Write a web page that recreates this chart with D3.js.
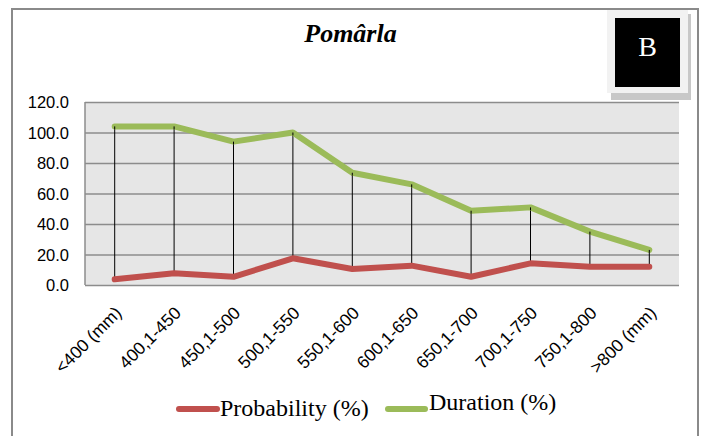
<!DOCTYPE html>
<html>
<head>
<meta charset="utf-8">
<script src="https://cdn.jsdelivr.net/npm/d3@7/dist/d3.min.js"></script>
<style>
  html, body { margin: 0; padding: 0; background: #fff; }
  svg { display: block; }
</style>
</head>
<body>
<script>
// Rainfall classes and the two series (%)
const categories = ["<400 (mm)", "400,1-450", "450,1-500", "500,1-550", "550,1-600",
                    "600,1-650", "650,1-700", "700,1-750", "750,1-800", ">800 (mm)"];
const probability = [3.7, 7.7, 5.4, 17.5, 10.5, 12.7, 5.4, 14.2, 12.0, 12.0];
const duration = [104.0, 104.0, 94.0, 100.0, 73.6, 66.0, 48.7, 50.9, 35.0, 23.0];
const yTicks = [0, 20, 40, 60, 80, 100, 120];
const titleText = "Pomârla";
const panelLetter = "B";
const seriesNames = ["Probability (%)", "Duration (%)"];

const W = 706, H = 436;
const plot = { left: 85, right: 679, top: 102, bottom: 285 };
const colors = { probability: "#c0504d", duration: "#9bbb59" };

const svg = d3.select("body").append("svg").attr("width", W).attr("height", H);

// outer frame
svg.append("rect").attr("x", 12).attr("y", 9).attr("width", 686).attr("height", 440)
  .attr("fill", "#fff").attr("stroke", "#8a8a8a").attr("stroke-width", 2);

// title
svg.append("text").attr("x", 350.5).attr("y", 42).attr("text-anchor", "middle")
  .attr("font-family", "'Liberation Serif', 'Times New Roman', serif")
  .attr("font-weight", "bold").attr("font-style", "italic").attr("font-size", 26)
  .text(titleText);

// scales
const x = d3.scaleBand().domain(categories).range([plot.left, plot.right]);
const cx = c => x(c) + x.bandwidth() / 2;
const y = d3.scaleLinear().domain([0, 120]).range([plot.bottom, plot.top]);

// plot background
svg.append("rect").attr("x", plot.left).attr("y", plot.top)
  .attr("width", plot.right - plot.left).attr("height", plot.bottom - plot.top)
  .attr("fill", "#e6e6e6");

// gridlines + y axis labels
const yAxis = d3.axisLeft(y).tickValues(yTicks).tickFormat(d3.format(".1f"))
  .tickSize(-(plot.right - plot.left)).tickPadding(16);
const gy = svg.append("g").attr("transform", `translate(${plot.left},0)`).call(yAxis);
gy.select(".domain").attr("stroke", "#8c8c8c").attr("stroke-width", 1.5)
  .attr("d", `M0,${plot.top}V${plot.bottom}`);
gy.selectAll(".tick line").attr("stroke", "#8c8c8c").attr("stroke-width", 1.5);
gy.selectAll(".tick text").attr("font-family", "'Liberation Sans', Arial, sans-serif")
  .attr("font-size", 16.5).attr("fill", "#000").attr("dy", "0.36em");

// x axis labels, rotated
const xAxis = d3.axisBottom(x).tickSize(0).tickPadding(0);
const gx = svg.append("g").attr("transform", `translate(0,${plot.bottom})`).call(xAxis);
gx.select(".domain").remove();
gx.selectAll(".tick text")
  .attr("font-family", "'Liberation Sans', Arial, sans-serif")
  .attr("font-size", 17.5).attr("fill", "#000")
  .attr("text-anchor", "end")
  .attr("dy", 0).attr("y", 0)
  .attr("transform", "translate(8,29) rotate(-45)");

// high-low drop lines
svg.append("g").selectAll("line").data(categories).join("line")
  .attr("x1", d => cx(d)).attr("x2", d => cx(d))
  .attr("y1", (d, i) => y(duration[i])).attr("y2", (d, i) => y(probability[i]))
  .attr("stroke", "#000").attr("stroke-width", 1);

// series lines
const line = d3.line().x((d, i) => cx(categories[i])).y(d => y(d));
[[probability, colors.probability], [duration, colors.duration]].forEach(([vals, col]) => {
  svg.append("path").datum(vals).attr("d", line)
    .attr("fill", "none").attr("stroke", col).attr("stroke-width", 6)
    .attr("stroke-linejoin", "round").attr("stroke-linecap", "round");
});

// short tops of the drop lines, visible over the green line
svg.append("g").selectAll("line").data(categories).join("line")
  .attr("x1", d => cx(d)).attr("x2", d => cx(d))
  .attr("y1", (d, i) => y(duration[i])).attr("y2", (d, i) => y(duration[i]) + 3)
  .attr("stroke", "#000").attr("stroke-width", 1);

// panel letter box
svg.append("rect").attr("x", 611).attr("y", 14).attr("width", 80).attr("height", 86).attr("fill", "#c8c8c8");
svg.append("rect").attr("x", 607).attr("y", 10).attr("width", 81).attr("height", 83).attr("fill", "#f2f2f2");
svg.append("rect").attr("x", 615).attr("y", 18).attr("width", 65).attr("height", 69).attr("fill", "#000");
svg.append("text").attr("x", 647.5).attr("y", 56).attr("text-anchor", "middle")
  .attr("font-family", "'Liberation Serif', 'Times New Roman', serif")
  .attr("font-size", 28).attr("fill", "#fff").text(panelLetter);

// legend
const legend = [
  { name: seriesNames[0], color: colors.probability, x1: 179, x2: 217, tx: 220, ty: 415.5 },
  { name: seriesNames[1], color: colors.duration, x1: 388, x2: 425, tx: 429, ty: 410 }
];
const lg = svg.append("g");
legend.forEach(l => {
  lg.append("line").attr("x1", l.x1).attr("x2", l.x2).attr("y1", 409).attr("y2", 409)
    .attr("stroke", l.color).attr("stroke-width", 6).attr("stroke-linecap", "round");
  lg.append("text").attr("x", l.tx).attr("y", l.ty)
    .attr("font-family", "'Liberation Serif', 'Times New Roman', serif")
    .attr("font-size", 24).attr("fill", "#000").text(l.name);
});
</script>
</body>
</html>
